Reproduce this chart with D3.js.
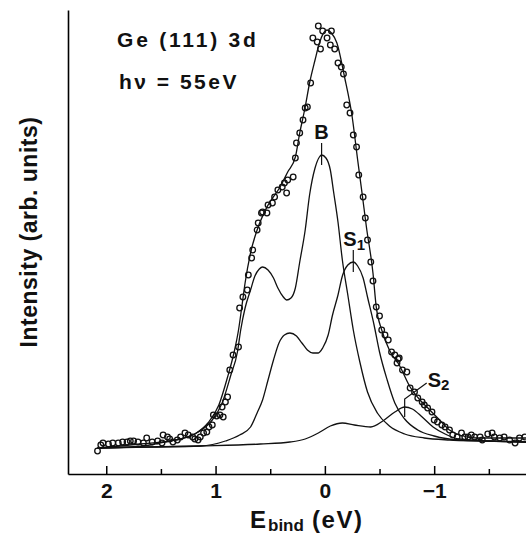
<!DOCTYPE html>
<html>
<head>
<meta charset="utf-8">
<script src="https://cdn.jsdelivr.net/npm/d3@7"></script>
<style>
  body { margin: 0; background: #fff; }
  text { font-family: "Liberation Sans", Arial, sans-serif; fill: #111; }
</style>
</head>
<body>
<div id="chart"></div>
<script>
// everything as [E_bind (eV), intensity (arb. units)]
var totalFit = [[2.08,2],[1.69,6],[1.37,10],[1.19,16],[1.07,27],[0.97,45],[0.89,73],[0.83,98],[0.79,120],[0.76,143],[0.73,167],[0.68,197],[0.62,220],[0.53,243],[0.41,263],[0.34,278],[0.27,293],[0.23,317],[0.18,343],[0.14,367],[0.09,390],[0.05,407],[-0.02,420],[-0.06,417],[-0.11,407],[-0.18,373],[-0.25,333],[-0.30,290],[-0.34,257],[-0.38,223],[-0.44,177],[-0.47,143],[-0.52,120],[-0.59,100],[-0.68,85],[-0.78,63],[-0.87,50],[-0.96,40],[-1.05,30],[-1.14,20],[-1.23,15],[-1.39,12],[-1.60,12],[-1.84,12]];

var bulkB = [[2.08,2],[1.78,3],[1.60,5],[1.42,9],[1.32,11],[1.16,18],[1.03,30],[0.94,47],[0.86,75],[0.80,98],[0.77,120],[0.73,142],[0.68,160],[0.64,174],[0.60,181],[0.57,183],[0.52,180],[0.47,172],[0.43,162],[0.38,153],[0.35,150],[0.31,152],[0.27,162],[0.23,188],[0.18,220],[0.14,255],[0.09,282],[0.05,293],[0.03,295],[-0.01,292],[-0.05,280],[-0.08,258],[-0.12,228],[-0.16,190],[-0.21,155],[-0.26,120],[-0.32,88],[-0.39,58],[-0.48,37],[-0.59,24],[-0.73,16],[-0.91,12],[-1.14,10],[-1.42,9],[-1.84,8]];

var surfS1 = [[2.08,2],[1.60,3],[1.14,4],[0.91,9],[0.78,15],[0.68,23],[0.62,37],[0.57,50],[0.52,70],[0.47,90],[0.42,107],[0.37,115],[0.32,117],[0.26,114],[0.21,107],[0.16,100],[0.11,97],[0.06,97],[0.02,102],[-0.03,115],[-0.07,135],[-0.12,155],[-0.16,174],[-0.21,185],[-0.26,188],[-0.30,184],[-0.35,172],[-0.39,153],[-0.45,125],[-0.50,98],[-0.57,70],[-0.64,47],[-0.73,31],[-0.85,20],[-1.00,14],[-1.23,10],[-1.51,9],[-1.84,8]];

var surfS2 = [[2.08,2],[1.14,4],[0.59,6],[0.32,8],[0.18,11],[0.06,17],[-0.05,24],[-0.16,27],[-0.27,25],[-0.42,23],[-0.53,29],[-0.64,38],[-0.73,43],[-0.80,41],[-0.89,33],[-0.99,23],[-1.10,16],[-1.23,11],[-1.51,9],[-1.84,8]];

var measured = [[2.08,-1],[2.05,5],[2.03,7],[1.98,6],[1.94,7],[1.89,7],[1.85,8],[1.81,8],[1.78,9],[1.75,9],[1.71,8],[1.66,7],[1.63,12],[1.58,8],[1.53,9],[1.49,7],[1.48,15],[1.44,13],[1.42,11],[1.39,8],[1.35,10],[1.32,13],[1.28,17],[1.25,15],[1.21,13],[1.19,11],[1.16,10],[1.14,13],[1.11,17],[1.08,18],[1.06,23],[1.03,25],[1.02,35],[0.99,34],[0.96,35],[0.93,33],[0.94,43],[0.91,48],[0.89,53],[0.87,80],[0.84,95],[0.79,103],[0.78,142],[0.75,153],[0.71,160],[0.70,175],[0.67,192],[0.66,200],[0.62,220],[0.61,227],[0.58,237],[0.57,238],[0.53,237],[0.52,245],[0.48,247],[0.46,253],[0.43,260],[0.39,263],[0.37,267],[0.35,257],[0.34,270],[0.29,273],[0.27,292],[0.26,307],[0.23,317],[0.20,330],[0.18,342],[0.16,343],[0.13,367],[0.11,412],[0.07,408],[0.06,424],[0.04,401],[0.02,419],[-0.02,412],[-0.05,405],[-0.06,419],[-0.09,401],[-0.12,387],[-0.15,383],[-0.17,376],[-0.20,345],[-0.23,337],[-0.26,315],[-0.29,303],[-0.31,275],[-0.35,253],[-0.37,232],[-0.39,210],[-0.42,188],[-0.44,169],[-0.47,143],[-0.50,134],[-0.52,120],[-0.55,115],[-0.58,110],[-0.61,98],[-0.64,95],[-0.67,91],[-0.66,87],[-0.68,92],[-0.71,80],[-0.75,78],[-0.78,62],[-0.82,58],[-0.85,52],[-0.89,48],[-0.91,45],[-0.94,42],[-0.98,38],[-1.00,30],[-1.03,28],[-1.07,25],[-1.10,23],[-1.14,20],[-1.17,15],[-1.21,13],[-1.25,17],[-1.28,13],[-1.31,13],[-1.34,15],[-1.37,13],[-1.42,13],[-1.44,10],[-1.49,16],[-1.53,17],[-1.55,13],[-1.60,12],[-1.64,13],[-1.69,10],[-1.74,7],[-1.78,12],[-1.83,13]];

var peakLabels = [
  {name: "B", sub: "", e: 0.03, i: 295},
  {name: "S", sub: "1", e: -0.26, i: 188},
  {name: "S", sub: "2", e: -0.73, i: 43}
];

var majorTicks = [2, 1, 0, -1];
var minorTicks = [1.5, 0.5, -0.5, -1.5];

var width = 526, height = 535;

var svg = d3.select("#chart").append("svg")
  .attr("width", width)
  .attr("height", height);

// energy axis runs backwards, like the paper
var x = d3.scaleLinear().domain([2.35, -1.84]).range([68, 526]);
var y = d3.scaleLinear().domain([-24, 440]).range([474, 10]);

var line = d3.line()
  .x(d => x(d[0]))
  .y(d => y(d[1]))
  .curve(d3.curveMonotoneX);

// axes
var xAxis = svg.append("g")
  .attr("transform", "translate(0," + y(-24) + ")")
  .call(d3.axisBottom(x).tickValues(majorTicks).tickFormat(d3.format("d"))
    .tickSize(-8).tickSizeOuter(0).tickPadding(9));
xAxis.select(".domain").attr("stroke-width", 1.6);
xAxis.selectAll(".tick line").attr("stroke-width", 1.5);
xAxis.selectAll(".tick text")
  .style("font-size", "21px")
  .style("font-weight", "bold")
  .attr("fill", "#111");

var xMinor = svg.append("g")
  .attr("transform", "translate(0," + y(-24) + ")")
  .call(d3.axisBottom(x).tickValues(minorTicks).tickSize(-5).tickSizeOuter(0).tickFormat(""));
xMinor.select(".domain").remove();
xMinor.selectAll(".tick line").attr("stroke-width", 1.5);

var yAxis = svg.append("g")
  .attr("transform", "translate(" + x(2.35) + ",0)")
  .call(d3.axisLeft(y).tickValues([]).tickSizeOuter(0));
yAxis.select(".domain").attr("stroke-width", 1.6);

// fit curves
[totalFit, bulkB, surfS1, surfS2].forEach(function(c) {
  svg.append("path")
    .datum(c)
    .attr("d", line)
    .attr("fill", "none")
    .attr("stroke", "#111")
    .attr("stroke-width", 1.3);
});

// peak markers
peakLabels.forEach(function(p) {
  var px = x(p.e), py = y(p.i);
  if (p.sub === "2") {
    svg.append("path")
      .attr("d", "M" + (px + 22) + "," + (py - 24) + "L" + px + "," + (py - 8) + "L" + px + "," + (py + 10))
      .attr("fill", "none").attr("stroke", "#111").attr("stroke-width", 1.2);
    var t2 = svg.append("text").attr("x", px + 23).attr("y", py - 20)
      .style("font-size", "20px").style("font-weight", "bold");
    t2.append("tspan").text(p.name);
    t2.append("tspan").attr("dy", 3).style("font-size", "15px").text(p.sub);
  } else {
    svg.append("line")
      .attr("x1", px).attr("x2", px)
      .attr("y1", py - 12).attr("y2", py + 10)
      .attr("stroke", "#111").attr("stroke-width", 1.2);
    var t = svg.append("text")
      .attr("x", p.sub ? px - 10 : px)
      .attr("y", py - 16)
      .attr("text-anchor", p.sub ? "start" : "middle")
      .style("font-size", "20px").style("font-weight", "bold");
    t.append("tspan").text(p.name);
    if (p.sub) t.append("tspan").attr("dy", 4).style("font-size", "15px").text(p.sub);
  }
});

// measured points
svg.append("g").selectAll("circle")
  .data(measured)
  .enter().append("circle")
  .attr("cx", d => x(d[0]))
  .attr("cy", d => y(d[1]))
  .attr("r", 2.8)
  .attr("fill", "none")
  .attr("stroke", "#111")
  .attr("stroke-width", 1.3);

// titles
svg.append("text")
  .attr("x", 117).attr("y", 47)
  .style("font-size", "21px").style("font-weight", "bold").style("letter-spacing", "2.8px")
  .text("Ge (111) 3d");

svg.append("text")
  .attr("x", 119).attr("y", 89)
  .style("font-size", "21px").style("font-weight", "bold").style("letter-spacing", "2.5px")
  .text("hν = 55eV");

svg.append("text")
  .attr("transform", "translate(37,232) rotate(-90)")
  .attr("text-anchor", "middle")
  .style("font-size", "23px").style("font-weight", "bold").style("letter-spacing", "0.5px")
  .text("Intensity (arb. units)");

var xl = svg.append("text")
  .attr("x", 250).attr("y", 528)
  .style("font-size", "24px").style("font-weight", "bold");
xl.append("tspan").text("E");
xl.append("tspan").attr("dy", 3).attr("dx", 2).style("font-size", "17px").text("bind");
xl.append("tspan").attr("dy", -3).style("letter-spacing", "1.5px").text(" (eV)");
</script>
</body>
</html>
